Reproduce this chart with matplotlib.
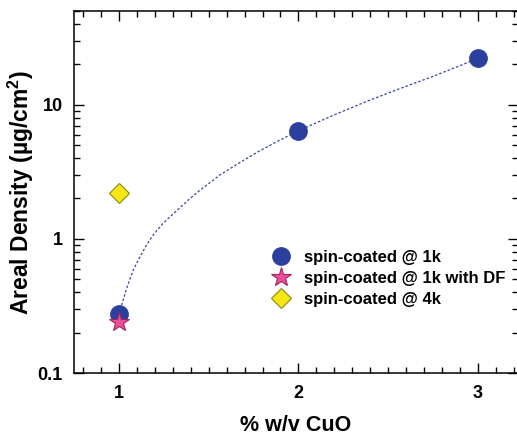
import matplotlib
matplotlib.use("Agg")
import matplotlib.pyplot as plt
from matplotlib.ticker import FixedLocator, FuncFormatter, MultipleLocator, LogLocator, NullFormatter

plt.rcParams['font.family'] = ['Liberation Sans', 'DejaVu Sans']
plt.rcParams['font.weight'] = 'bold'
plt.rcParams['mathtext.fontset'] = 'custom'
plt.rcParams['mathtext.rm'] = 'Liberation Sans:bold'
plt.rcParams['mathtext.bf'] = 'Liberation Sans:bold'
plt.rcParams['mathtext.default'] = 'rm'

# Data
conc_1k = [1, 2, 3]
density_1k = [0.275, 6.4, 22.3]
conc_1k_df = [1]
density_1k_df = [0.241]
conc_4k = [1]
density_4k = [2.21]

# Trend curve
fit_x = [1.015, 1.043, 1.08, 1.117, 1.154, 1.191, 1.247, 1.321, 1.396, 1.451,
         1.563, 1.674, 1.786, 1.897, 2.0, 2.19, 2.38, 2.565, 2.751, 2.937, 3.0]
fit_y = [0.32, 0.427, 0.585, 0.735, 0.90, 1.07, 1.31, 1.62, 2.0, 2.3,
         3.0, 3.71, 4.55, 5.45, 6.4, 8.3, 10.6, 13.2, 16.3, 20.5, 22.3]

labels = ["spin-coated @ 1k", "spin-coated @ 1k with DF", "spin-coated @ 4k"]
x_ticks = [1, 2, 3]
y_ticks = [0.1, 1, 10]

fig = plt.figure(figsize=(5.17, 4.38), dpi=100)
ax = fig.add_axes([74/517, 1-373/438, 1.0-74/517+0.001, (373-11)/438])

ax.plot(fit_x, fit_y, color='#3a44a8', lw=0.9, linestyle=(0, (2, 1.6)), zorder=1)
ax.plot(conc_1k, density_1k, 'o', ms=12.5, color='#2b3f9e', mec='#2b3f9e',
        label=labels[0], zorder=3)
ax.plot(conc_1k_df, density_1k_df, '*', ms=15, color='#e8509a', mec='#a3235f',
        mew=0.8, label=labels[1], zorder=4)
ax.plot(conc_4k, density_4k, 'D', ms=10, color='#f5e614', mec='#8a8a1a',
        mew=0.8, label=labels[2], zorder=3)

ax.set_yscale('log')
ax.set_xlim(0.75, 3.22)
ax.set_ylim(0.1, 50)

ax.xaxis.set_major_locator(FixedLocator(x_ticks))
ax.xaxis.set_minor_locator(MultipleLocator(0.1))
ax.yaxis.set_major_locator(FixedLocator(y_ticks))
ax.yaxis.set_minor_locator(LogLocator(base=10, subs=range(2, 10)))
ax.yaxis.set_minor_formatter(NullFormatter())
ax.yaxis.set_major_formatter(FuncFormatter(lambda v, p: f"{v:g}"))
ax.xaxis.set_major_formatter(FuncFormatter(lambda v, p: f"{v:g}"))

ax.tick_params(which='both', direction='in', top=True, right=True, width=1,
               labelsize=13)
ax.tick_params(axis='x', which='major', length=7, pad=9)
ax.tick_params(axis='y', which='major', length=7, pad=8)
ax.tick_params(which='minor', length=4)
for s in ax.spines.values():
    s.set_linewidth(1.1)

ax.set_xlabel("% w/v CuO", fontsize=15.5, fontweight='bold', labelpad=9)
ax.set_ylabel("Areal Density (µg/cm$^{2}$)", fontsize=16.5, fontweight='bold',
              labelpad=1)

leg = ax.legend(loc='center left', bbox_to_anchor=(269/517, 1-278.5/438),
                bbox_transform=fig.transFigure, frameon=False,
                prop={'size': 12, 'weight': 'bold'},
                borderpad=0, handlelength=1.4, handletextpad=0.7,
                labelspacing=0.35, borderaxespad=0)

fig.savefig("out.png", dpi=100)
